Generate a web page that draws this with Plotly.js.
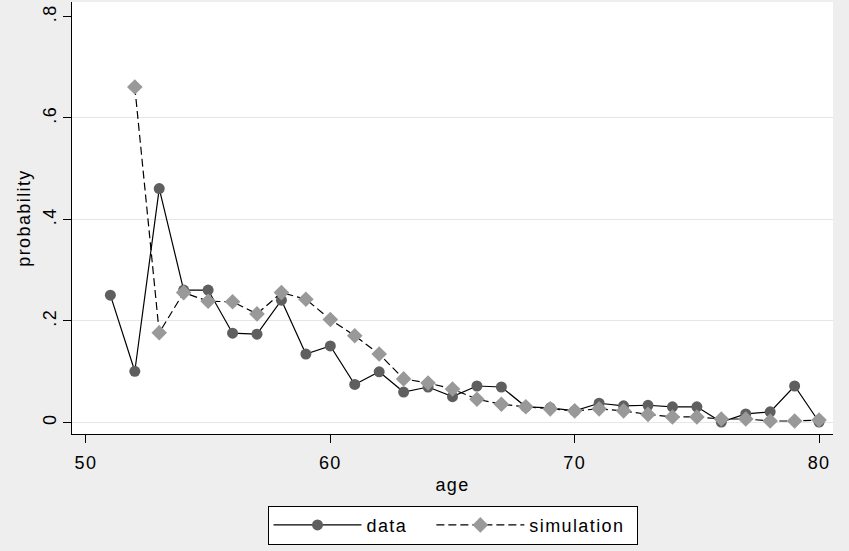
<!DOCTYPE html>
<html>
<head>
<meta charset="utf-8">
<script src="https://cdn.plot.ly/plotly-3.0.1.min.js"></script>
<style>html,body{margin:0;padding:0;background:#eeeeee;}#chart{width:849px;height:551px;} svg text{letter-spacing:1.4px;}</style>
</head>
<body>
<div id="chart"></div>
<script>
var dataAges = [51,52,53,54,55,56,57,58,59,60,61,62,63,64,65,66,67,68,69,70,71,72,73,74,75,76,77,78,79,80];
var dataValues = [0.25,0.10,0.46,0.26,0.26,0.175,0.173,0.24,0.134,0.15,0.074,0.099,0.059,0.069,0.050,0.071,0.069,0.030,0.028,0.022,0.037,0.032,0.033,0.030,0.030,0.0,0.016,0.020,0.071,0.0];
var simAges = [52,53,54,55,56,57,58,59,60,61,62,63,64,65,66,67,68,69,70,71,72,73,74,75,76,77,78,79,80];
var simValues = [0.66,0.176,0.255,0.238,0.237,0.213,0.255,0.242,0.202,0.170,0.134,0.085,0.077,0.065,0.045,0.035,0.030,0.026,0.022,0.026,0.022,0.015,0.010,0.010,0.006,0.006,0.002,0.002,0.004];
var xTicks = [50,60,70,80];
var yTicks = [0,0.2,0.4,0.6,0.8];
var yTickText = ['0','.2','.4','.6','.8'];
var yGrid = [0,0.2,0.4,0.6];
var seriesNames = ['data', 'simulation'];

var font = 'Arial, "Liberation Sans", sans-serif';
var pad = '\u00a0\u00a0\u00a0';
var traces = [
  {x: dataAges, y: dataValues, name: seriesNames[0] + pad, type: 'scatter', mode: 'lines+markers',
   line: {color: '#000000', width: 1.2},
   marker: {symbol: 'circle', size: 11, color: '#5f5f5f'}},
  {x: simAges, y: simValues, name: seriesNames[1] + '\u00a0', type: 'scatter', mode: 'lines+markers',
   line: {color: '#000000', width: 1.2, dash: '8px,4px'},
   marker: {symbol: 'diamond', size: 12, color: '#999999'}},
  {x: [null], y: [null], yaxis: 'y2', showlegend: false, hoverinfo: 'skip', type: 'scatter'}
];
var layout = {
  width: 849, height: 551,
  paper_bgcolor: '#eeeeee', plot_bgcolor: '#ffffff',
  margin: {l: 72, r: 16, t: 2, b: 117},
  font: {family: font, size: 18, color: '#000000'},
  showlegend: true,
  legend: {orientation: 'h', x: 0.5, xanchor: 'center', y: -0.166, yanchor: 'top',
           bgcolor: '#ffffff', bordercolor: '#000000', borderwidth: 1,
           font: {family: font, size: 18, color: '#000000'}, itemwidth: 88,
           traceorder: 'normal'},
  xaxis: {range: [49.43, 80.57], tickvals: xTicks, ticks: 'outside', ticklen: 8, tickwidth: 1,
          tickcolor: '#000000', showline: true, linecolor: '#000000', linewidth: 1,
          showgrid: false, zeroline: false, tickfont: {size: 18}, ticklabelstandoff: 4,
          title: {text: 'age', font: {size: 18}, standoff: 6}},
  yaxis: {range: [-0.0236, 0.8276], tickvals: yTicks, ticktext: yTickText, tickangle: -90,
          ticks: 'outside', ticklen: 8, tickwidth: 1, tickcolor: '#000000',
          showline: true, linecolor: '#000000', linewidth: 1, showgrid: false, zeroline: false,
          tickfont: {size: 18},
          title: {text: 'probability', font: {size: 18}, standoff: 4}},
  yaxis2: {range: [-0.0236, 0.8276], overlaying: 'y', tickvals: yGrid, showticklabels: false,
           showgrid: true, gridcolor: '#e6e6e6', gridwidth: 1, zeroline: false, showline: false,
           ticks: '', layer: 'below traces'}
};
Plotly.newPlot('chart', traces, layout, {displayModeBar: false, staticPlot: true});
</script>
</body>
</html>
